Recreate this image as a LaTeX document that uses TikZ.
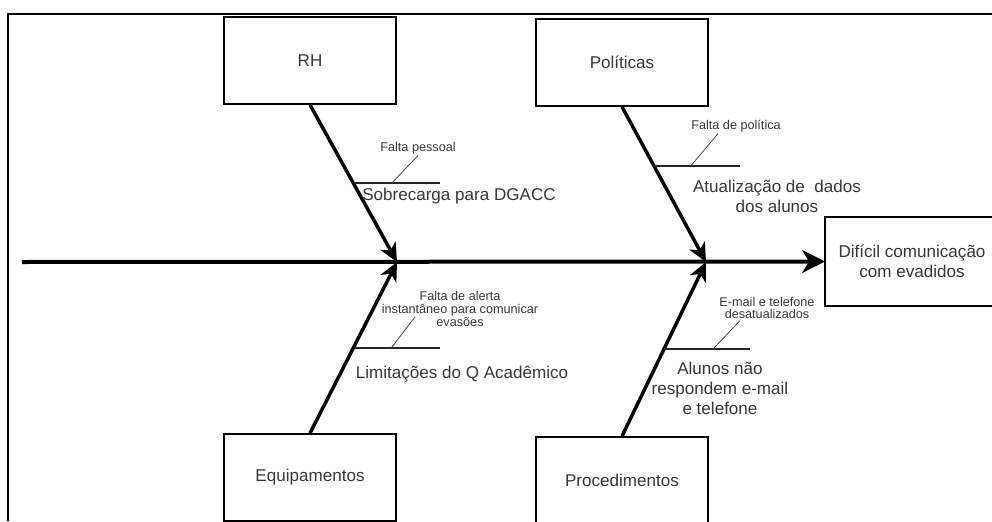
\documentclass[tikz,border=0pt]{standalone}
\usepackage{fontspec}
\setmainfont{Liberation Sans}
\usepackage{xcolor}
\usepackage{tikz}
\usetikzlibrary{arrows.meta, positioning, calc}
\definecolor{ishi-text}{RGB}{55, 55, 55}
\definecolor{ishi-lead}{RGB}{70, 70, 70}

\begin{document}
\begin{tikzpicture}[
    x=0.75pt, y=-0.75pt,
    cat/.style={rectangle, draw=black, line width=1.5pt,
                minimum width=129pt, minimum height=65pt,
                align=center, font=\fontsize{12.8}{15}\selectfont, text=ishi-text},
    spine/.style={-{Stealth[length=17pt, width=17pt, inset=5pt]}, line width=3pt},
    bone/.style={-{Stealth[length=14pt, width=13pt, inset=4pt]}, line width=2.6pt},
    sub/.style={line width=1.6pt, color=black!85},
    lead/.style={line width=0.6pt, color=ishi-lead},
    big/.style={font=\fontsize{12.8}{15}\selectfont, text=ishi-text, align=center, inner sep=1pt},
    small/.style={font=\fontsize{9.5}{9.5}\selectfont, text=ishi-text, align=center, inner sep=1pt}
  ]
    \useasboundingbox (0,0) rectangle (992,521);
    \draw[line width=1.5pt] (8,521) |- (992,14);

    % categories and effect
    \node[cat] (rh)     at (310,60.5)  {RH};
    \node[cat] (pol)    at (622,62.5)  {Políticas};
    \node[cat] (equip)  at (310,477.5) {Equipamentos};
    \node[cat] (proc)   at (622,480.5) {Procedimentos};
    \node[cat, draw=none] (efeito) at (912,261.5) {Difícil comunicação\\com evadidos};
    % effect box runs past the right edge
    \draw[line width=1.5pt] ($(efeito.north east)+(20,0)$) -- (efeito.north west)
        -- (efeito.south west) -- ($(efeito.south east)+(20,0)$);

    % spine
    \coordinate (ini) at (22,262);
    \coordinate (j1)  at (397,262);
    \coordinate (j2)  at (706,262);
    \draw[spine] (ini) -- (efeito.west);

    \draw[bone] (rh.south)   -- (j1);
    \draw[bone] (equip.north) -- (j1);
    \draw[bone] (pol.south)  -- (j2);
    \draw[bone] (proc.north) -- (j2);

    % sub causes
    \coordinate (s1) at ($(rh.south)!0.5!(j1)$);
    \coordinate (s2) at ($(pol.south)!0.38!(j2)$);
    \coordinate (s3) at ($(equip.north)!0.5!(j1)$);
    \coordinate (s4) at ($(proc.north)!0.5!(j2)$);
    \draw[sub] (s1) -- ++(86,0);
    \draw[sub] (s2) -- ++(86,0);
    \draw[sub] (s3) -- ++(86,0);
    \draw[sub] (s4) -- ++(86,0);

    \node[small] (fpes)  at (418,148) {Falta pessoal};
    \node[small] (fpol)  at (736,126) {Falta de política};
    \node[small] (falrt) at (460,309) {Falta de alerta\\instantâneo para comunicar\\evasões};
    \node[small] (fmail) at (767,308) {E-mail e telefone\\desatualizados};

    \draw[lead] ($(s1)+(38,0)$) -- (fpes.south);
    \draw[lead] ($(s2)+(37,0)$) -- ($(fpol.south)+(-18,0)$);
    \draw[lead] ($(s3)+(38,0)$) -- ($(falrt.south)+(-45,-11)$);
    \draw[lead] ($(s4)+(49,0)$) -- ($(fmail.south)+(-27,0)$);

    \node[big] (sobre) at (459,196) {Sobrecarga para DGACC};
    \node[big] (atual) at (777,196) {Atualização de~ dados\\dos alunos};
    \node[big] (limit) at (462,374) {Limitações do Q Acadêmico};
    \node[big] (aluno) at (720,388) {Alunos não\\respondem e-mail\\e telefone};
  \end{tikzpicture}
\end{document}
